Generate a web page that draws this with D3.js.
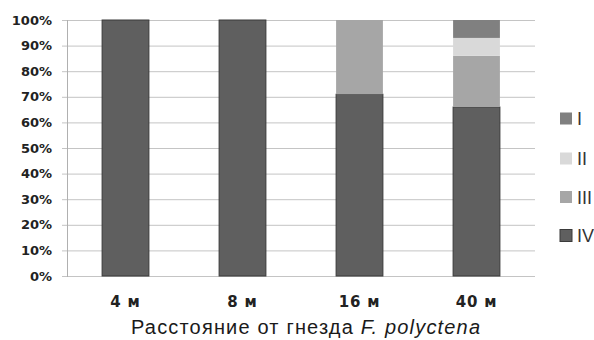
<!DOCTYPE html>
<html>
<head>
<meta charset="utf-8">
<script src="https://cdn.jsdelivr.net/npm/d3@7/dist/d3.min.js"></script>
<style>
  html, body { margin: 0; padding: 0; background: #ffffff; }
  svg { display: block; }
</style>
</head>
<body>
<svg id="chart" width="594" height="340"></svg>
<script>
// Distance from the nest (categories) and share of each size class, %
const categories = ["4 м", "8 м", "16 м", "40 м"];
const seriesNames = ["IV", "III", "II", "I"];          // stacked bottom to top
const valuesIV  = [100, 100, 71, 66];
const valuesIII = [0, 0, 29, 20];
const valuesII  = [0, 0, 0, 7];
const valuesI   = [0, 0, 0, 7];
const yTicks = [0, 10, 20, 30, 40, 50, 60, 70, 80, 90, 100];
const legendOrder = ["I", "II", "III", "IV"];

const colors = { "IV": "#5f5f5f", "III": "#a6a6a6", "II": "#d9d9d9", "I": "#808080" };
const strokes = { "IV": "#3a3a3a", "III": "none", "II": "none", "I": "none" };

const rows = categories.map((c, i) => ({
  cat: c, "IV": valuesIV[i], "III": valuesIII[i], "II": valuesII[i], "I": valuesI[i]
}));

const svg = d3.select("#chart");
const margin = { left: 67, right: 59, top: 20, bottom: 64 };
const W = 594, H = 340;

const x = d3.scaleBand().domain(categories)
  .range([margin.left, W - margin.right]).paddingInner(0.6).paddingOuter(0.3);
const y = d3.scaleLinear().domain([0, 100]).range([H - margin.bottom, margin.top]);

// gridlines
svg.append("g").selectAll("line").data(yTicks).join("line")
  .attr("x1", margin.left - 5).attr("x2", W - margin.right)
  .attr("y1", d => y(d) + 0.5).attr("y2", d => y(d) + 0.5)
  .attr("stroke", "#c4c4c4").attr("stroke-width", 1);

// vertical axis line
svg.append("line")
  .attr("x1", margin.left + 0.5).attr("x2", margin.left + 0.5)
  .attr("y1", y(100)).attr("y2", y(0) + 1)
  .attr("stroke", "#b0b0b0");

// y axis labels
const yAxis = d3.axisLeft(y).tickValues(yTicks).tickFormat(d => d + "%").tickSize(0).tickPadding(15);
const ya = svg.append("g").attr("transform", `translate(${margin.left},0)`).call(yAxis);
ya.select(".domain").remove();
ya.selectAll("text")
  .attr("font-family", "'DejaVu Sans', sans-serif")
  .attr("font-size", 13).attr("font-weight", "bold").attr("fill", "#222");

// stacked bars
const stack = d3.stack().keys(seriesNames)(rows);
svg.append("g").selectAll("g").data(stack).join("g")
  .attr("fill", d => colors[d.key])
  .attr("stroke", d => strokes[d.key])
  .selectAll("rect").data(d => d.filter(s => s[1] - s[0] > 0)).join("rect")
  .attr("x", d => x(d.data.cat))
  .attr("width", x.bandwidth())
  .attr("y", d => y(d[1]))
  .attr("height", d => y(d[0]) - y(d[1]));

// x axis labels
const xAxis = d3.axisBottom(x).tickSize(0).tickPadding(20);
const xa = svg.append("g").attr("transform", `translate(0,${H - margin.bottom})`).call(xAxis);
xa.select(".domain").remove();
xa.selectAll("text")
  .attr("font-family", "'DejaVu Sans', sans-serif")
  .attr("font-size", 15).attr("font-weight", "bold")
  .attr("letter-spacing", 0.8).attr("fill", "#222");

// axis title
const title = svg.append("text")
  .attr("x", 131).attr("y", 334)
  .attr("textLength", 349).attr("lengthAdjust", "spacing")
  .attr("font-family", "Arial, 'Liberation Sans', sans-serif")
  .attr("font-size", 20).attr("fill", "#1a1a1a");
title.append("tspan").text("Расстояние от гнезда ");
title.append("tspan").attr("font-style", "italic").text("F. polyctena");

// legend
const legCenters = [118.5, 158.5, 197, 235.5];
const leg = svg.append("g").selectAll("g").data(legendOrder).join("g")
  .attr("transform", (d, i) => `translate(560,${legCenters[i]})`);
leg.append("rect").attr("y", -6).attr("width", 12).attr("height", 12)
  .attr("fill", d => colors[d])
  .attr("stroke", d => strokes[d]);
leg.append("text").attr("x", 17).attr("y", 6.5)
  .attr("font-family", "Arial, 'Liberation Sans', sans-serif")
  .attr("font-size", 18).attr("fill", "#333")
  .text(d => d);
</script>
</body>
</html>
